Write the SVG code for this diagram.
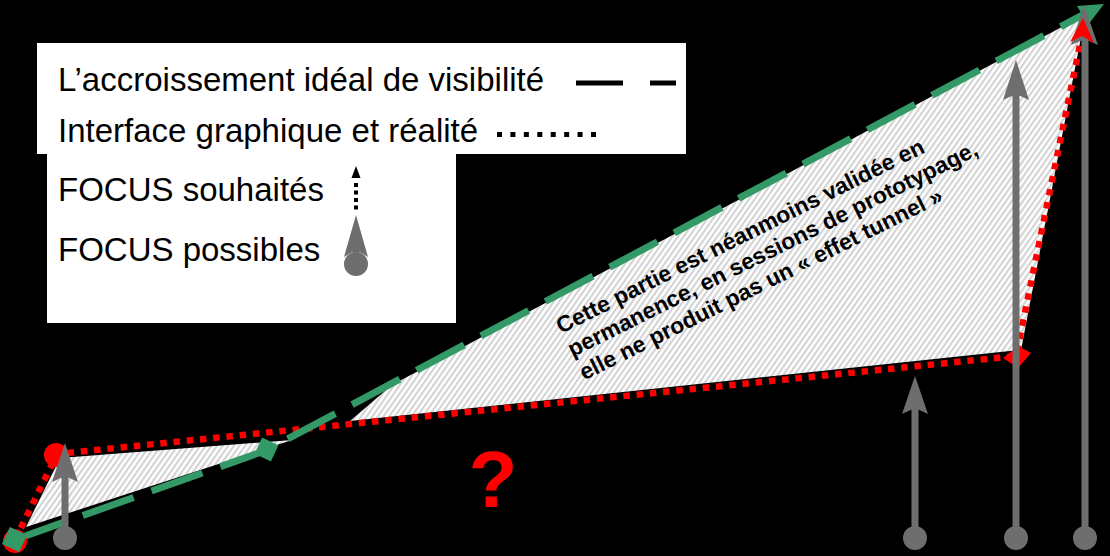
<svg xmlns="http://www.w3.org/2000/svg" width="1110" height="556" viewBox="0 0 1110 556">
<defs>
<pattern id="hatch" width="4.6" height="4.6" patternUnits="userSpaceOnUse" patternTransform="rotate(35)">
<rect width="4.6" height="4.6" fill="#ffffff"/>
<rect width="2.1" height="4.6" fill="#d2d2d2"/>
</pattern>
<style>
.lg{font-family:"Liberation Sans",Arial,sans-serif;font-size:33px;fill:#000}
.note{font-family:"Liberation Sans",Arial,sans-serif;font-size:22.8px;font-weight:bold;fill:#000}
.green{fill:none;stroke:#339966;stroke-width:7;stroke-dasharray:54 19}
.red{fill:none;stroke:#ff0000;stroke-width:6.5;stroke-dasharray:6.5 6.8}
.shaft{stroke:#6e6e6e;stroke-width:7}
.gray{fill:#6e6e6e}
</style>
</defs>
<rect width="1110" height="556" fill="#000"/>
<g id="hatched-areas">
<polygon points="26,527 60,458 292,440" fill="url(#hatch)"/>
<polygon points="350,421 392,385 1086,14 1082,32 1021,350 1010,351" fill="url(#hatch)"/>
</g>
<g id="connectors">
<polyline class="red" points="15,540 57,454 1016,356 1083,30"/>
<polyline class="green" points="14,540 267,450 1090,11"/>
<polygon points="1104,4 1077,6 1088,25" fill="#339966"/>
</g>
<g id="markers">
<circle cx="15" cy="541" r="12" fill="#ff0000"/>
<rect x="5" y="530" width="19" height="19" fill="#339966" transform="rotate(25 14.5 539.5)"/>
<rect x="257.5" y="440.5" width="18" height="18" fill="#339966" transform="rotate(25 266.5 449.5)"/>
<circle cx="56" cy="455" r="12" fill="#ff0000"/>
<polygon points="1003,358 1018,346 1031,353 1018,368" fill="#ff0000"/>
</g>
<g id="focus-arrows">
<line class="shaft" x1="65" y1="538" x2="65" y2="470"/>
<path class="gray" d="M65,443 L78,482 L65,476 L52,482 Z"/>
<circle class="gray" cx="65" cy="538" r="12"/>
<line class="shaft" x1="915" y1="538" x2="915" y2="400"/>
<path class="gray" d="M915,376 L928,414 L915,408 L902,414 Z"/>
<circle class="gray" cx="915" cy="538" r="12"/>
<line class="shaft" x1="1016" y1="538" x2="1016" y2="85"/>
<path class="gray" d="M1016,60 L1029,100 L1016,94 L1003,100 Z"/>
<circle class="gray" cx="1016" cy="538" r="12"/>
<line class="shaft" x1="1085" y1="538" x2="1085" y2="30"/>
<path class="gray" d="M1084,5 L1098,45 L1085,39 L1071,45 Z"/>
<circle class="gray" cx="1085" cy="538" r="12"/>
<path d="M1083,18 L1094,43 L1082,36 L1070,42 Z" fill="#ff0000"/>
</g>
<g id="legend">
<rect x="37" y="43" width="649" height="111" fill="#fff"/>
<rect x="47" y="153" width="409" height="170" fill="#fff"/>
<text class="lg" x="58" y="91">L’accroissement idéal de visibilité</text>
<line x1="576" y1="83" x2="623" y2="83" stroke="#000" stroke-width="5"/>
<line x1="650" y1="83" x2="676" y2="83" stroke="#000" stroke-width="5"/>
<text class="lg" x="58" y="142">Interface graphique et réalité</text>
<line x1="497" y1="134.5" x2="598" y2="134.5" stroke="#000" stroke-width="5" stroke-dasharray="5 8.43"/>
<text class="lg" x="58" y="201">FOCUS souhaités</text>
<path d="M356,166 L360.5,178 L351.5,178 Z" fill="#000"/>
<line x1="356" y1="183" x2="356" y2="212" stroke="#000" stroke-width="4" stroke-dasharray="4 3.5"/>
<text class="lg" x="58" y="261">FOCUS possibles</text>
<line class="shaft" x1="356" y1="264" x2="356" y2="235"/>
<path class="gray" d="M356,215 L368,257 L356,250 L344,257 Z"/>
<circle class="gray" cx="356" cy="264" r="12"/>
</g>
<g id="note" transform="translate(561,334) rotate(-26.5)">
<text class="note" x="0" y="0">Cette partie est néanmoins validée en</text>
<text class="note" x="0" y="26">permanence, en sessions de prototypage,</text>
<text class="note" x="0" y="52">elle ne produit pas un « effet tunnel »</text>
</g>
<g id="question">
<text x="493" y="507" text-anchor="middle" font-family="'Liberation Sans',Arial,sans-serif" font-size="80" font-weight="bold" fill="#ff0000">?</text>
</g>
</svg>
